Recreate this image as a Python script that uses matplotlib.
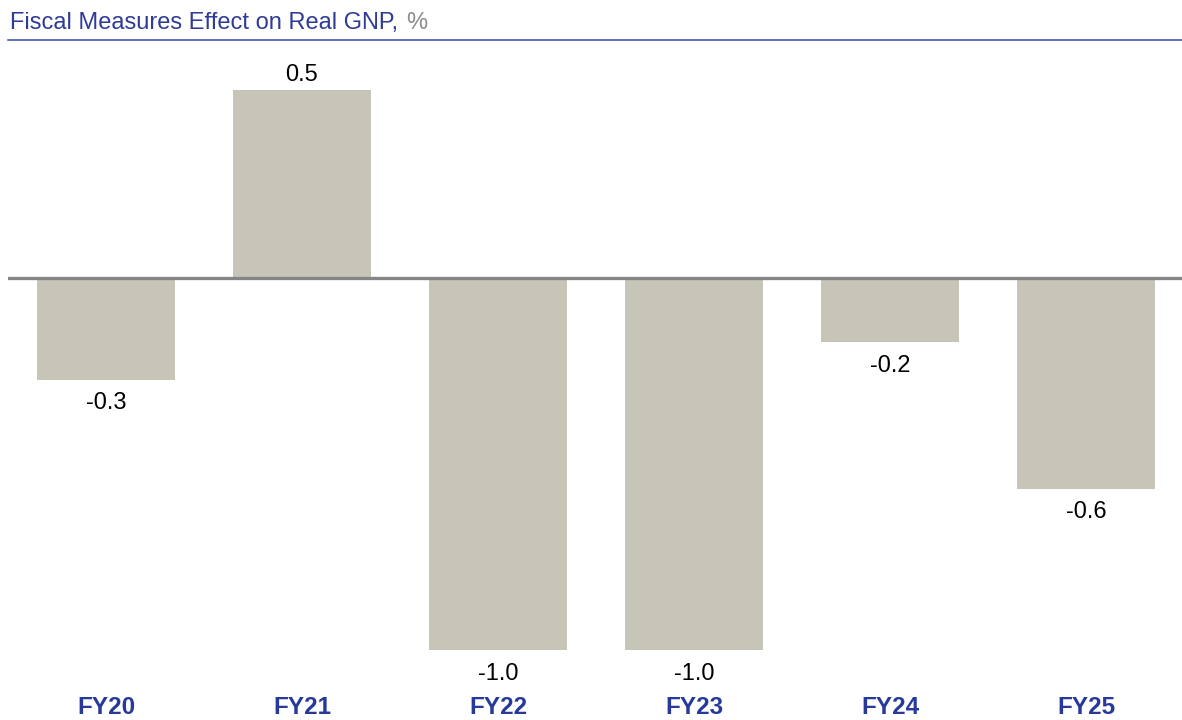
import matplotlib.pyplot as plt
from matplotlib.transforms import blended_transform_factory

# data
years = ['FY20', 'FY21', 'FY22', 'FY23', 'FY24', 'FY25']
effect = [-0.27, 0.5, -0.99, -0.99, -0.17, -0.56]

plt.rcParams['font.family'] = ['Liberation Sans', 'DejaVu Sans']

W, H = 1182, 720
fig = plt.figure(figsize=(W / 100, H / 100), dpi=100)

# axes placed in pixel terms: top 50px, bottom 680px, left 8px
top_px, bot_px = 50, 680
ax = fig.add_axes([8 / W, 1 - bot_px / H, 1176 / W, (bot_px - top_px) / H])

x = range(len(years))
bars = ax.bar(x, effect, width=0.705, color='#c7c5b8', zorder=2)
ax.axhline(0, color='#858585', linewidth=2.4, zorder=3)

ax.set_xlim(-0.5, 5.5)
ax.set_ylim(-(bot_px - 278) / 376, (278 - top_px) / 376)

for b, v in zip(bars, effect):
    cx = b.get_x() + b.get_width() / 2
    if v >= 0:
        ax.annotate(f'{v:.1f}', (cx, v), xytext=(0, 6.5), textcoords='offset points',
                    ha='center', va='baseline', fontsize=17, color='black')
    else:
        ax.annotate(f'{v:.1f}', (cx, v), xytext=(0, -21.5), textcoords='offset points',
                    ha='center', va='baseline', fontsize=17, color='black')

# category labels below the plot
tr = blended_transform_factory(ax.transData, fig.transFigure)
for i, yr in zip(x, years):
    ax.text(i, 1 - 714 / H, yr, transform=tr, ha='center', va='baseline',
            fontsize=17.5, fontweight='bold', color='#27399a')

ax.set_xticks([])
ax.set_yticks([])
for s in ax.spines.values():
    s.set_visible(False)

# title with gray unit
t1 = fig.text(10 / W, 1 - 29 / H, 'Fiscal Measures Effect on Real GNP,', fontsize=17,
              color='#2f3b97', ha='left', va='baseline')
fig.canvas.draw()
ext = t1.get_window_extent()
fig.text((ext.x1 + 8) / W, 1 - 29 / H, '%', fontsize=17, color='#8c8c8c',
         ha='left', va='baseline')
fig.add_artist(plt.Line2D([8 / W, 1], [1 - 40 / H, 1 - 40 / H], color='#3a4aa8',
                          linewidth=1.1))

fig.savefig('out.png', dpi=100)
